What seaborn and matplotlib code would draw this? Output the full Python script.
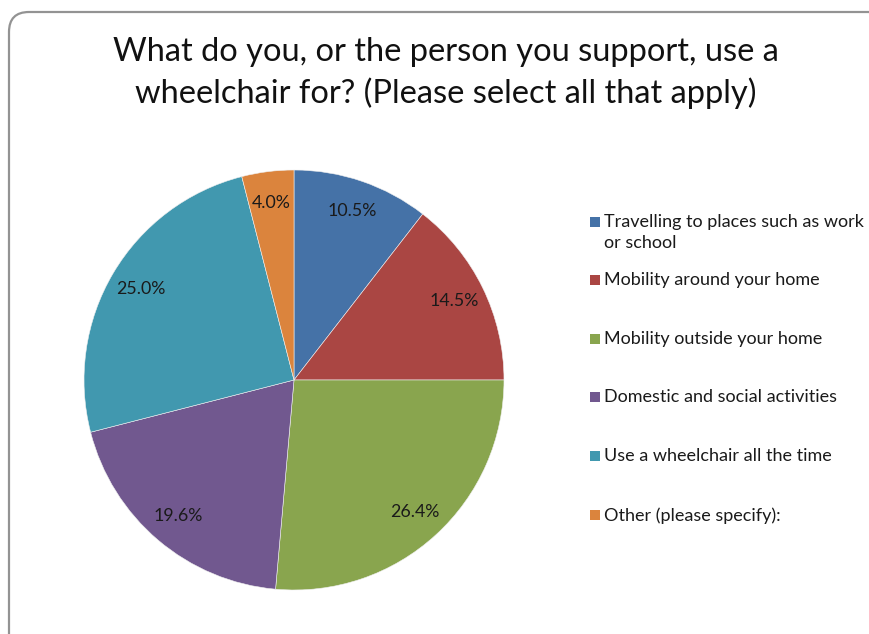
import matplotlib
matplotlib.use("Agg")
import matplotlib.pyplot as plt
from matplotlib.patches import FancyBboxPatch, Rectangle
import seaborn as sns

categories = [
    "Travelling to places such as work\nor school",
    "Mobility around your home",
    "Mobility outside your home",
    "Domestic and social activities",
    "Use a wheelchair all the time",
    "Other (please specify):",
]
values = [10.5, 14.5, 26.4, 19.6, 25.0, 4.0]
colors = ["#4572A7", "#AA4643", "#89A54E", "#71588F", "#4198AF", "#DB843D"]
title = "What do you, or the person you support, use a\nwheelchair for? (Please select all that apply)"

sns.set_theme(style="white")
plt.rcParams["font.family"] = ["Lato", "DejaVu Sans"]

W, H = 870, 634
fig = plt.figure(figsize=(W / 100, H / 100), dpi=100)
fig.patch.set_facecolor("white")

# background axes in pixel units for the rounded frame
bg = fig.add_axes([0, 0, 1, 1])
bg.set_xlim(0, W)
bg.set_ylim(0, H)
bg.axis("off")
bg.add_patch(FancyBboxPatch((9, -40), 880, H - 12 + 40,
                            boxstyle="round,pad=0,rounding_size=20",
                            facecolor="none", edgecolor="#939393",
                            linewidth=1.6, clip_on=False))

cx, cy, r = 294, 380, 210
ax = fig.add_axes([(cx - r) / W, (H - cy - r) / H, 2 * r / W, 2 * r / H])
wedges, texts, autotexts = ax.pie(
    values, colors=colors, startangle=90, counterclock=False,
    autopct=lambda p: f"{p:.1f}%", pctdistance=0.85, radius=1.0,
    wedgeprops=dict(linewidth=0.4, edgecolor="#f0f0f0"),
    textprops=dict(fontsize=12.8, color="#1a1a1a"),
)
ax.set_xlim(-1, 1)
ax.set_ylim(-1, 1)
ax.set_aspect("equal")
ax.axis("off")

fig.text(446 / W, 1 - 73 / H, title, ha="center", va="center",
         fontsize=23.5, color="#111111", linespacing=1.38)

# legend
ys = [221, 279, 338, 396, 455, 514]
for lab, col, y in zip(categories, colors, ys):
    fig.patches.append(Rectangle(((590) / W, 1 - (y + 6) / H), 10 / W, 10 / H,
                                 transform=fig.transFigure, facecolor=col,
                                 edgecolor="none"))
    fig.text(604 / W, 1 - (y - 7) / H, lab, ha="left", va="top",
             fontsize=13, color="#1a1a1a", linespacing=1.4)

fig.savefig("out.png", dpi=100)
